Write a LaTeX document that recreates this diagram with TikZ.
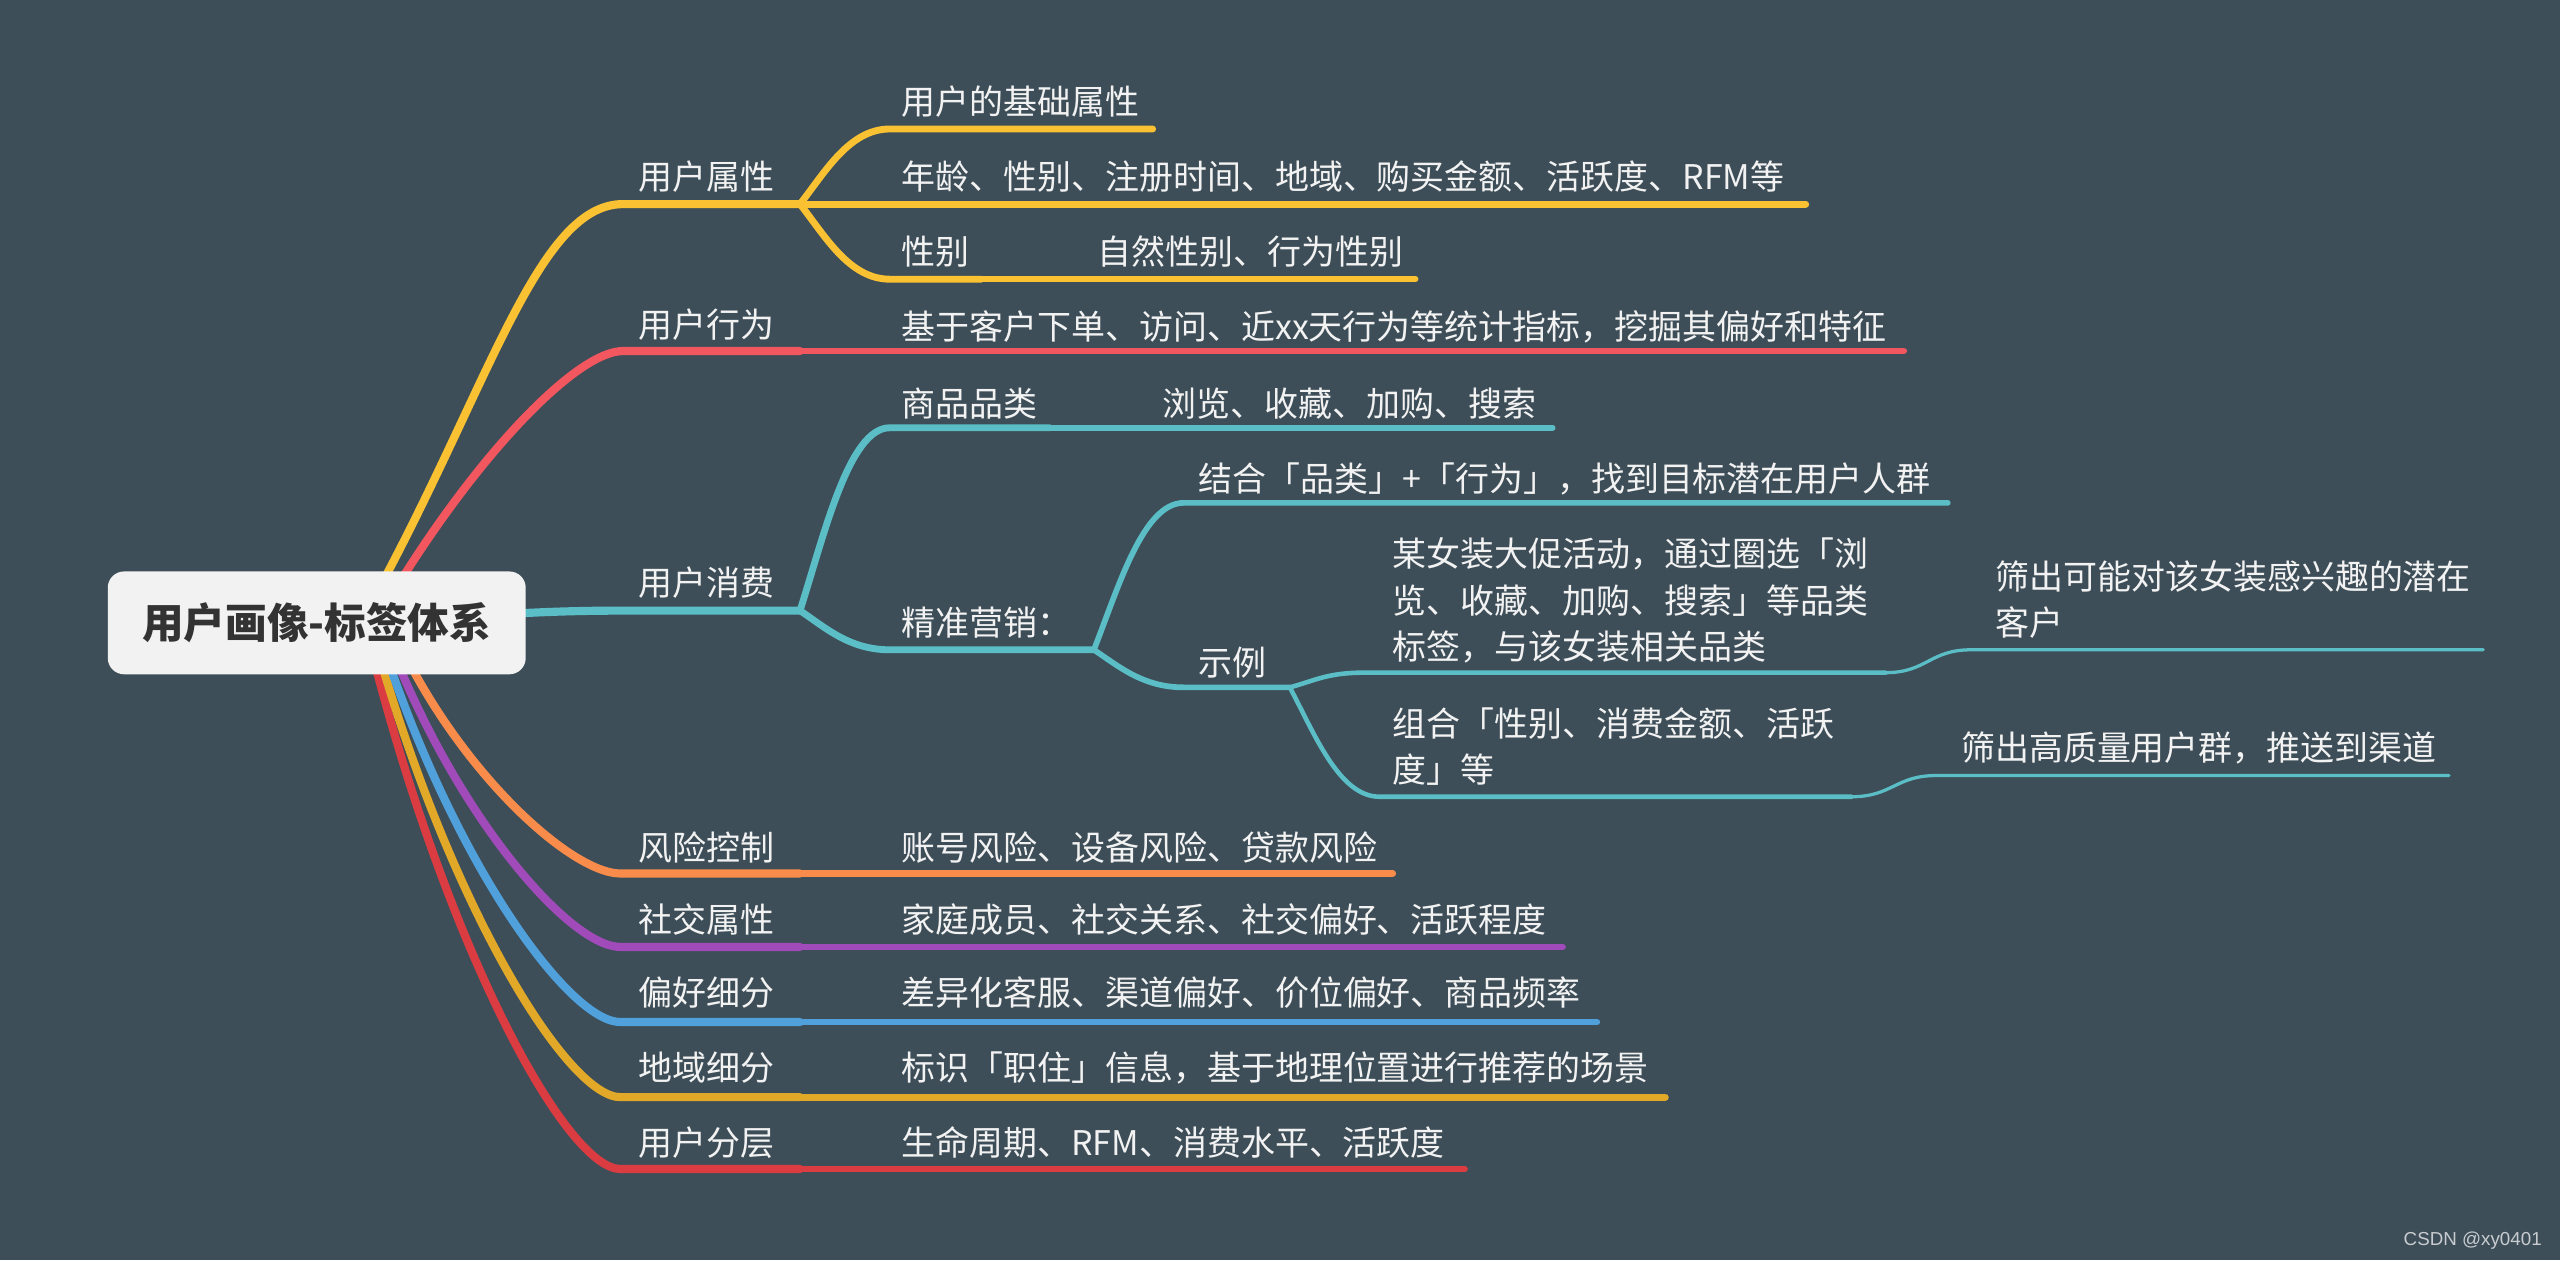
\documentclass[tikz,border=0pt]{standalone}
\usepackage{fontspec}
\setmainfont{Noto Sans CJK SC}
\newfontfamily\wmfont{Liberation Sans}
\definecolor{bg}{RGB}{61,78,88}
\definecolor{txt}{RGB}{242,242,242}
\definecolor{cbox}{RGB}{242,242,242}
\definecolor{ctext}{RGB}{51,51,51}
\definecolor{cY}{RGB}{250,194,50}
\definecolor{cR}{RGB}{242,86,94}
\definecolor{cT}{RGB}{91,190,198}
\definecolor{cO}{RGB}{250,140,75}
\definecolor{cP}{RGB}{160,75,185}
\definecolor{cB}{RGB}{80,160,220}
\definecolor{cG}{RGB}{226,168,40}
\definecolor{cD}{RGB}{218,60,66}
\definecolor{wm}{RGB}{200,204,208}
\tikzset{
  lvA/.style={line width=5pt, line cap=round, line join=round},
  lvB/.style={line width=4.2pt, line cap=round},
  lvC/.style={line width=3.5pt, line cap=round},
  lvD/.style={line width=2.8pt, line cap=round},
  lvE/.style={line width=2pt, line cap=round},
  lab/.style={anchor=base west, inner sep=0pt, text=txt, font=\fontsize{20.8}{28.5}\selectfont},
  rootbox/.style={fill=cbox, rounded corners=10pt, minimum width=256pt, minimum height=63pt,
    text=ctext, inner sep=0pt, font=\fontsize{25.5}{30}\selectfont\bfseries},
}
\begin{document}
\begin{tikzpicture}[x=1pt,y=-1pt]
\fill[bg] (0,0) rectangle (1568,772);
\useasboundingbox (0,0) rectangle (1568,772);

% ---------- coordinates of the main branches ----------
% s = hidden start inside root, b = point on root edge, k = corner end, f = fork
\coordinate (sY) at (227.3,370); \coordinate (bY) at (237.8,350); \coordinate (kY) at (381.6,125); \coordinate (fY) at (490,125);
\coordinate (sR) at (236.2,370); \coordinate (bR) at (249,350);   \coordinate (kR) at (381.6,215); \coordinate (fR) at (490,215);
\coordinate (sT) at (250,381);                                    \coordinate (kT) at (380,374);   \coordinate (fT) at (490,374);
\coordinate (sO) at (243.8,394); \coordinate (bO) at (255,414);   \coordinate (kO) at (380,535);   \coordinate (fO) at (490,535);
\coordinate (sP) at (238.3,394); \coordinate (bP) at (247,414);   \coordinate (kP) at (380,580);   \coordinate (fP) at (490,580);
\coordinate (sB) at (233.9,394); \coordinate (bB) at (241,414);   \coordinate (kB) at (380,626);   \coordinate (fB) at (490,626);
\coordinate (sG) at (230,394);   \coordinate (bG) at (236,414);   \coordinate (kG) at (380,672);   \coordinate (fG) at (490,672);
\coordinate (sD) at (226.3,394); \coordinate (bD) at (231.6,414); \coordinate (kD) at (380,716);   \coordinate (fD) at (490,716);

% ---------- main branches ----------
\draw[lvA,cD] (sD) -- (bD) .. controls +(47.5,178) and +(-31.8,0) .. (kD) -- (fD);
\draw[lvA,cG] (sG) -- (bG) .. controls +(46,152) and +(-30.8,0) .. (kG) -- (fG);
\draw[lvA,cB] (sB) -- (bB) .. controls +(44.5,125) and +(-29.7,0) .. (kB) -- (fB);
\draw[lvA,cP] (sP) -- (bP) .. controls +(42.6,98) and +(-28.5,0) .. (kP) -- (fP);
\draw[lvA,cO] (sO) -- (bO) .. controls +(40,71.4) and +(-26.8,0) .. (kO) -- (fO);
\draw[lvA,cY] (sY) -- (bY) .. controls +(65.1,-124) and +(-49.8,0) .. (kY) -- (fY);
\draw[lvA,cR] (sR) -- (bR) .. controls +(50.4,-79) and +(-26.5,0) .. (kR) -- (fR);
\draw[lvA,cT] (sT) .. controls +(50,-5) and +(-40,0) .. (kT) -- (fT);

% ---------- level 2 and deeper ----------
% user attributes
\coordinate (aY1) at (545,79);  \coordinate (eY1) at (706,79);
\coordinate (eY2) at (1106,125);
\coordinate (aY3) at (545,171); \coordinate (jY3) at (601,171); \coordinate (eY3) at (867,171);
\draw[lvB,cY] (fY) .. controls +(15,-19) and +(-25,0) .. (aY1) -- (eY1);
\draw[lvB,cY] (fY) -- (eY2);
\draw[lvB,cY] (fY) .. controls +(15,19) and +(-25,0) .. (aY3) -- (jY3);
\draw[lvC,cY] (jY3) -- (eY3);
% behaviour
\coordinate (eR) at (1166,215);
\draw[lvB,cR] (fR) -- (eR);
% consumption
\coordinate (aT1) at (545,262); \coordinate (jT1) at (643,262); \coordinate (eT1) at (951,262);
\coordinate (aT2) at (545,398); \coordinate (fT2) at (670,398);
\draw[lvB,cT] (fT) .. controls +(15,-47) and +(-25,0) .. (aT1) -- (jT1);
\draw[lvC,cT] (jT1) -- (eT1);
\draw[lvB,cT] (fT) .. controls +(15,10) and +(-25,0) .. (aT2) -- (fT2);
\coordinate (aT3) at (725,308); \coordinate (eT3) at (1193,308);
\coordinate (aT4) at (725,421); \coordinate (fT4) at (790,421);
\draw[lvC,cT] (fT2) .. controls +(15,-38) and +(-25,0) .. (aT3) -- (eT3);
\draw[lvC,cT] (fT2) .. controls +(15,10) and +(-25,0) .. (aT4) -- (fT4);
\coordinate (aT5) at (835,412); \coordinate (fT5) at (1155,412);
\coordinate (aT6) at (845,488); \coordinate (fT6) at (1134,488);
\draw[lvD,cT] (fT4) .. controls +(15,-4) and +(-22,0) .. (aT5) -- (fT5);
\draw[lvD,cT] (fT4) .. controls +(15,28) and +(-25,0) .. (aT6) -- (fT6);
\coordinate (aT7) at (1207,398); \coordinate (eT7) at (1521,398);
\coordinate (aT8) at (1186,475); \coordinate (eT8) at (1500,475);
\draw[lvE,cT] (fT5) .. controls +(25,0) and +(-25,0) .. (aT7) -- (eT7);
\draw[lvE,cT] (fT6) .. controls +(25,0) and +(-25,0) .. (aT8) -- (eT8);
% single children
\coordinate (eO) at (853,535);  \draw[lvB,cO] (fO) -- (eO);
\coordinate (eP) at (957,580);  \draw[lvB,cP] (fP) -- (eP);
\coordinate (eB) at (978,626);  \draw[lvB,cB] (fB) -- (eB);
\coordinate (eG) at (1020,672); \draw[lvB,cG] (fG) -- (eG);
\coordinate (eD) at (897,716);  \draw[lvB,cD] (fD) -- (eD);

% ---------- root ----------
\node[rootbox] (root) at (194,381.5) {用户画像-标签体系};

% ---------- labels ----------
\node[lab] (n1) at (391,116) {用户属性};
\node[lab] (n2) at (391,207) {用户行为};
\node[lab] (n3) at (391,365) {用户消费};
\node[lab] (n4) at (391,527) {风险控制};
\node[lab] (n5) at (391,571) {社交属性};
\node[lab] (n6) at (391,616) {偏好细分};
\node[lab] (n7) at (391,662) {地域细分};
\node[lab] (n8) at (391,708) {用户分层};

\node[lab] (m1) at (552,70) {用户的基础属性};
\node[lab] (m2) at (552,116) {年龄、性别、注册时间、地域、购买金额、活跃度、RFM等};
\node[lab] (m3) at (552,162) {性别};
\node[lab] (m3a) at (672,162) {自然性别、行为性别};
\node[lab] (m4) at (552,208) {基于客户下单、访问、近xx天行为等统计指标，挖掘其偏好和特征};
\node[lab] (m5) at (552,255) {商品品类};
\node[lab] (m5a) at (712,255) {浏览、收藏、加购、搜索};
\node[lab] (m6) at (552,389) {精准营销：};
\node[lab] (m6a) at (734,301) {结合「品类」+「行为」，找到目标潜在用户人群};
\node[lab] (m6b) at (734,414) {示例};
\node[lab] (m6c) at (853,347) {\parbox[t]{320pt}{某女装大促活动，通过圈选「浏\\览、收藏、加购、搜索」等品类\\标签，与该女装相关品类}};
\node[lab] (m6d) at (853,451) {\parbox[t]{320pt}{组合「性别、消费金额、活跃\\度」等}};
\node[lab] (m6e) at (1222,361) {\parbox[t]{320pt}{筛出可能对该女装感兴趣的潜在\\客户}};
\node[lab] (m6f) at (1201,466) {筛出高质量用户群，推送到渠道};
\node[lab] (m7) at (552,527) {账号风险、设备风险、贷款风险};
\node[lab] (m8) at (552,571) {家庭成员、社交关系、社交偏好、活跃程度};
\node[lab] (m9) at (552,616) {差异化客服、渠道偏好、价位偏好、商品频率};
\node[lab] (m10) at (552,662) {标识「职住」信息，基于地理位置进行推荐的场景};
\node[lab] (m11) at (552,708) {生命周期、RFM、消费水平、活跃度};

\node[anchor=base east, inner sep=0pt, text=wm, font=\wmfont\fontsize{11.5}{13}\selectfont] (wmk) at (1557,763) {CSDN @xy0401};
\end{tikzpicture}
\end{document}
